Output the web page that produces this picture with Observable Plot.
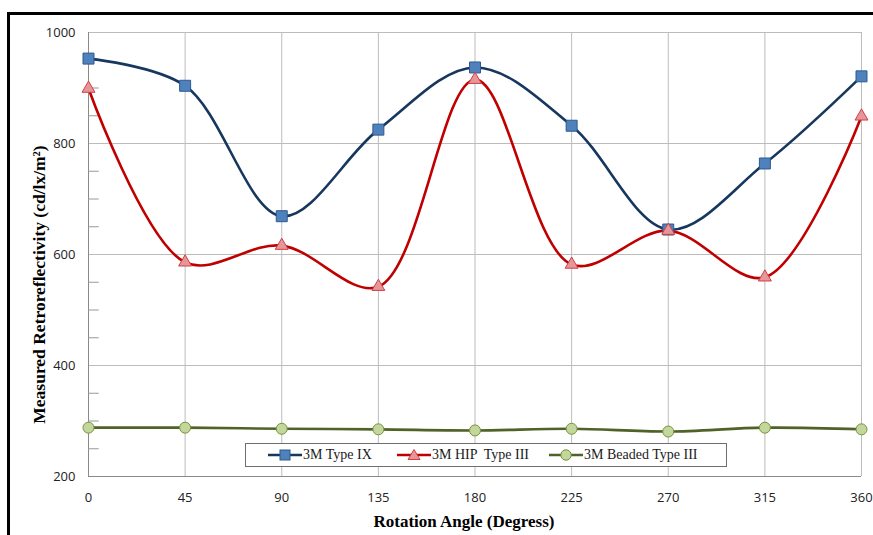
<!DOCTYPE html>
<html>
<head>
<meta charset="utf-8">
<script src="https://cdn.jsdelivr.net/npm/d3@7"></script>
<script src="https://cdn.jsdelivr.net/npm/@observablehq/plot@0.6"></script>
<style>
  html, body { margin: 0; padding: 0; background: #fff; }
  #wrap { position: relative; width: 873px; height: 535px; overflow: hidden; }
  #frame { position: absolute; left: 7px; top: 12px; width: 880px; height: 540px;
           border-top: 3px solid #000; border-left: 3px solid #000; pointer-events: none; }
  #legend { position: absolute; left: 245px; top: 443px; width: 482px; height: 24px;
            border: 1px solid #6e6e6e; background: #fff;
            font: 14px "Liberation Serif", "DejaVu Serif", serif; color: #1a1a1a; box-sizing: border-box; }
  #legend .item { display: flex; align-items: center; position: absolute; top: 2px; }
  #legend svg { display: block; }
  g[aria-label="y-axis tick label"] text, g[aria-label="x-axis tick label"] text { font: 13px "Open Sans", sans-serif; fill: #222; }
  .ytitle text { font: bold 17.5px "Liberation Serif", serif; fill: #000; }
  .xtitle text { font: bold 17px "Liberation Serif", serif; fill: #000; }
</style>
</head>
<body>
<div id="wrap">
  <div id="chart"></div>
  <div id="frame"></div>
  <div id="legend"></div>
</div>
<script>
const angles = [0, 45, 90, 135, 180, 225, 270, 315, 360];
const seriesNames = ["3M Type IX", "3M HIP  Type III", "3M Beaded Type III"];
const typeIX = [953, 904, 669, 825, 937, 832, 645, 764, 921];
const hipTypeIII = [899, 586, 616, 542, 915, 582, 643, 559, 849];
const beadedTypeIII = [288, 288, 286, 285, 283, 286, 281, 288, 285];
const yTicks = [200, 400, 600, 800, 1000];
const yMinorTicks = [250, 300, 350, 450, 500, 550, 650, 700, 750, 850, 900, 950];
const yTitle = "Measured Retroreflectivity (cd/lx/m²)";
const xTitle = "Rotation Angle (Degress)";

const styles = [
  {line: "#17375E", fill: "#4F81BD", stroke: "#2C5A8F", symbol: "square", r: 6.2},
  {line: "#C00000", fill: "#E6959A", stroke: "#D04040", symbol: "triangle", r: 4.8},
  {line: "#4F6228", fill: "#C3D69B", stroke: "#77933C", symbol: "circle", r: 5.5}
];
const allSeries = [typeIX, hipTypeIII, beadedTypeIII];

const data = [];
allSeries.forEach((vals, si) => vals.forEach((v, i) => data.push({series: seriesNames[si], si, angle: angles[i], value: v})));

const marks = [
  Plot.gridY(yTicks, {stroke: "#bcbcbc", strokeOpacity: 1, strokeWidth: 1}),
  Plot.gridX(angles, {stroke: "#bcbcbc", strokeOpacity: 1, strokeWidth: 1}),
  Plot.ruleX([0], {stroke: "#8a8a8a"}),
  Plot.ruleY([200], {stroke: "#8a8a8a"}),
  Plot.ruleY(yMinorTicks, {x1: 0, x2: 5, stroke: "#999"}),
  Plot.axisY(yTicks, {tickSize: 0, tickPadding: 13, tickFormat: d => String(d), label: null}),
  Plot.axisX(angles, {tickSize: 0, tickPadding: 16, tickFormat: d => String(d), label: null}),
  Plot.text([yTitle], {frameAnchor: "left", textAnchor: "middle", rotate: -90, dx: -49, dy: 30, className: "ytitle"}),
  Plot.text([xTitle], {frameAnchor: "bottom", dx: -11, dy: 50, className: "xtitle"})
];
styles.forEach((s, si) => {
  const d = data.filter(r => r.si === si);
  marks.push(Plot.line(d, {x: "angle", y: "value", stroke: s.line, strokeWidth: 2.6, curve: "catmull-rom"}));
});
styles.forEach((s, si) => {
  const d = data.filter(r => r.si === si);
  marks.push(Plot.dot(d, {x: "angle", y: "value", symbol: () => s.symbol, r: s.r, fill: s.fill, stroke: s.stroke, strokeWidth: 1}));
});

const chart = Plot.plot({
  width: 873,
  height: 535,
  marginLeft: 88,
  marginRight: 12,
  marginTop: 32,
  marginBottom: 59,
  x: {domain: [0, 360]},
  y: {domain: [200, 1000]},
  symbol: {domain: ["square", "triangle", "circle"], range: ["square", "triangle", "circle"]},
  style: {background: "transparent", overflow: "visible"},
  marks
});
document.getElementById("chart").appendChild(chart);

// legend
const legend = document.getElementById("legend");
const positions = [22, 151, 303];
styles.forEach((s, si) => {
  const item = document.createElement("div");
  item.className = "item";
  item.style.left = positions[si] + "px";
  const w = 34;
  let shape;
  if (s.symbol === "square") shape = `<rect x="${w/2-5}" y="4" width="10" height="10" fill="${s.fill}" stroke="${s.stroke}"/>`;
  else if (s.symbol === "triangle") shape = `<path d="M${w/2},3.5 L${w/2+6},13.5 L${w/2-6},13.5 Z" fill="${s.fill}" stroke="${s.stroke}"/>`;
  else shape = `<circle cx="${w/2}" cy="9" r="5.2" fill="${s.fill}" stroke="${s.stroke}"/>`;
  item.innerHTML = `<svg width="${w}" height="18"><line x1="0" x2="${w}" y1="9" y2="9" stroke="${s.line}" stroke-width="2.6"/>${shape}</svg><span style="margin-left:1px;white-space:pre">${seriesNames[si]}</span>`;
  legend.appendChild(item);
});
</script>
</body>
</html>
